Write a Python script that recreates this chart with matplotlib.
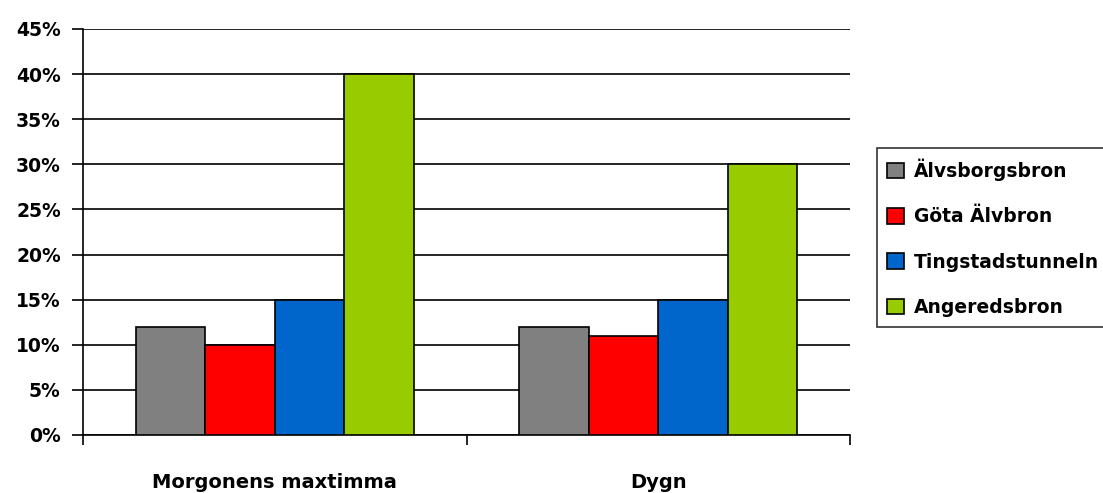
import numpy as np
import matplotlib.pyplot as plt

# shares per bridge, morning peak hour and full day
categories = ["Morgonens maxtimma", "Dygn"]
series_names = ["Älvsborgsbron", "Göta Älvbron", "Tingstadstunneln", "Angeredsbron"]
alvsborgsbron = [12, 12]
gota_alvbron = [10, 11]
tingstadstunneln = [15, 15]
angeredsbron = [40, 30]
y_ticks = [0, 5, 10, 15, 20, 25, 30, 35, 40, 45]

colors = ["#808080", "#FF0000", "#0066CC", "#99CC00"]

plt.rcParams["font.family"] = ["DejaVu Sans"]
plt.rcParams["font.weight"] = "bold"

fig = plt.figure(figsize=(11.03, 4.93), dpi=100, facecolor="white")
ax = fig.add_axes([83 / 1103, 58 / 493, 767 / 1103, 406 / 493])

x = np.arange(len(categories))
width = 0.181
values = [alvsborgsbron, gota_alvbron, tingstadstunneln, angeredsbron]
for i, (name, vals, col) in enumerate(zip(series_names, values, colors)):
    ax.bar(x + (i - 1.5) * width, vals, width, color=col, edgecolor="black",
           linewidth=1.2, label=name, zorder=3)

ax.set_xlim(-0.5, 1.5)
ax.set_ylim(0, 45)
ax.set_yticks(y_ticks)
ax.set_yticklabels([f"{v}%" for v in y_ticks])
ax.yaxis.grid(True, color="black", linewidth=1.2, zorder=0)
ax.set_axisbelow(True)

# category boundaries get the tick marks, names sit between them
ax.set_xticks([-0.5, 0.5, 1.5])
ax.set_xticklabels([])
ax.set_xticks(x, minor=True)
ax.set_xticklabels(categories, minor=True)
ax.tick_params(axis="x", which="major", length=7, width=1.2, direction="out")
ax.tick_params(axis="x", which="minor", length=0, pad=27, labelsize=14)
ax.tick_params(axis="y", length=8, width=1.2, direction="out", pad=8, labelsize=13.5)

for side in ["top", "right"]:
    ax.spines[side].set_visible(False)
for side in ["left", "bottom"]:
    ax.spines[side].set_linewidth(1.2)
    ax.spines[side].set_color("black")

leg = fig.legend(loc="upper left", bbox_to_anchor=(877 / 1103, 1 - 148 / 493),
                 fontsize=13.5, frameon=True, fancybox=False, edgecolor="black",
                 handlelength=0.9, handleheight=0.9, handletextpad=0.5,
                 labelspacing=1.41, borderpad=0.55, borderaxespad=0)
leg.get_frame().set_linewidth(1.2)

fig.savefig("out.png", dpi=100)
